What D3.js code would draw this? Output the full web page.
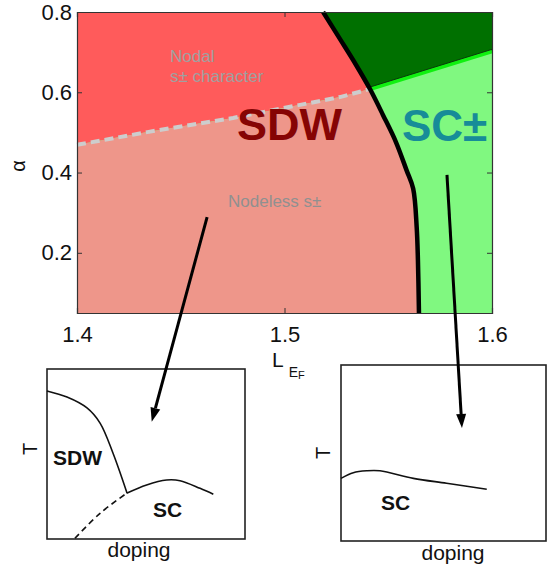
<!DOCTYPE html>
<html>
<head>
<meta charset="utf-8">
<script src="https://cdn.jsdelivr.net/npm/d3@7"></script>
<style>
html,body{margin:0;padding:0;background:#fff;}
svg{display:block;font-family:"Liberation Sans",Arial,Helvetica,sans-serif;}
</style>
</head>
<body>
<svg id="chart" width="556" height="570"></svg>
<script>
// ---------- data (main phase diagram: L_EF vs alpha) ----------
const xDomain = [1.4, 1.6];
const yDomain = [0.05, 0.8];
const xTicks = [1.4, 1.5, 1.6];
const yTicks = [0.2, 0.4, 0.6, 0.8];

// SDW / SC boundary (thick black), top to bottom
const sdwScBoundary = [
  [1.5186, 0.80], [1.5267, 0.733], [1.5345, 0.668], [1.5412, 0.608],
  [1.5475, 0.543], [1.5537, 0.476], [1.5588, 0.406], [1.5620, 0.360],
  [1.5637, 0.264], [1.5643, 0.182], [1.5648, 0.05]
];
// nodal / nodeless crossover (dashed grey), left to triple point
const nodalLine = [
  [1.4, 0.469], [1.4352, 0.502], [1.4752, 0.536], [1.5267, 0.588], [1.5412, 0.608]
];
// SC± / dark-green boundary (bright green), triple point to right edge
const scLine = [[1.5412, 0.608], [1.6, 0.702]];

// ---------- inset data (normalized doping, T) ----------
const inset1SDW = [[0, 0.871], [0.101, 0.835], [0.202, 0.771], [0.268, 0.682], [0.333, 0.506], [0.404, 0.271]];
const inset1SC = [[0.402, 0.269], [0.503, 0.318], [0.604, 0.347], [0.672, 0.343], [0.773, 0.298], [0.840, 0.263]];
const inset1Dash = [[0.141, 0.004], [0.268, 0.151], [0.402, 0.269]];
const inset2SC = [[0, 0.356], [0.060, 0.388], [0.125, 0.399], [0.190, 0.399], [0.353, 0.356], [0.515, 0.328], [0.711, 0.294]];

// arrows: start in main data coords, end in inset coords
const arrow1 = {from: [1.4627, 0.289], to: [0.529, 0.690]};
const arrow2 = {from: [1.5783, 0.394], to: [0.590, 0.642]};

// ---------- scales ----------
const svg = d3.select("#chart");
const x = d3.scaleLinear().domain(xDomain).range([77, 492]);
const y = d3.scaleLinear().domain(yDomain).range([313, 12]);
const ix1 = d3.scaleLinear().domain([0, 1]).range([47, 245]);
const iy1 = d3.scaleLinear().domain([0, 1]).range([539, 369]);
const ix2 = d3.scaleLinear().domain([0, 1]).range([341, 546]);
const iy2 = d3.scaleLinear().domain([0, 1]).range([541, 365]);

const line = d3.line().x(d => x(d[0])).y(d => y(d[1]));
const smooth = d3.line().x(d => x(d[0])).y(d => y(d[1])).curve(d3.curveCatmullRom.alpha(0.5));
const cont = s => "L" + s.slice(1);   // continue a path with another path string
const pts = a => a.map(d => x(d[0]) + "," + y(d[1])).join("L");

const tri = nodalLine.length - 1;
const triple = nodalLine[tri];
const bi = sdwScBoundary.findIndex(d => d[0] === triple[0] && d[1] === triple[1]);
const bTop = sdwScBoundary.slice(0, bi + 1);
const bBot = sdwScBoundary.slice(bi);
const bTopRev = bTop.slice().reverse();
const bBotRev = bBot.slice().reverse();
const X0 = xDomain[0], X1 = xDomain[1], Y0 = yDomain[0], Y1 = yDomain[1];

// light green background (SC±)
svg.append("path").attr("fill", "#80f880")
  .attr("d", "M" + pts([[X0, Y0], [X0, Y1], [X1, Y1], [X1, Y0]]) + "Z");
// dark green
svg.append("path").attr("fill", "#007000")
  .attr("d", smooth(bTop) + "L" + pts([scLine[1], [X1, Y1]]) + "Z");
// nodal SDW (red)
svg.append("path").attr("fill", "#ff5b5b")
  .attr("d", "M" + pts([[X0, Y1]]) + cont(smooth(bTop)) + "L" + pts(nodalLine.slice().reverse()) + "Z");
// nodeless SDW (salmon)
svg.append("path").attr("fill", "#ee968a")
  .attr("d", "M" + pts([[X0, Y0], ...nodalLine]) + cont(smooth(bBot)) + "Z");

// lines
svg.append("path").attr("d", line(scLine)).attr("fill", "none")
  .attr("stroke", "#10f010").attr("stroke-width", 4);
svg.append("path").attr("d", line(scLine)).attr("fill", "none")
  .attr("stroke", "#0a3a0a").attr("stroke-width", 1).attr("transform", "translate(0,-2)");
svg.append("path").attr("d", line(nodalLine)).attr("fill", "none")
  .attr("stroke", "#cdcdcd").attr("stroke-width", 4).attr("stroke-dasharray", "9,5");
svg.append("path").attr("d", smooth(sdwScBoundary)).attr("fill", "none")
  .attr("stroke", "#000").attr("stroke-width", 4.5).attr("stroke-linejoin", "round");

// axes
const fs = 22;
const gx = svg.append("g").attr("transform", "translate(0,313)")
  .call(d3.axisBottom(x).tickValues(xTicks).tickSize(-5).tickPadding(13).tickFormat(d3.format(".1f")));
const gy = svg.append("g").attr("transform", "translate(77,0)")
  .call(d3.axisLeft(y).tickValues(yTicks).tickSize(-5).tickPadding(5).tickFormat(d3.format(".1f")));
const gxt = svg.append("g").attr("transform", "translate(0,12)")
  .call(d3.axisTop(x).tickValues(xTicks).tickSize(-5).tickFormat(""));
const gyr = svg.append("g").attr("transform", "translate(492,0)")
  .call(d3.axisRight(y).tickValues(yTicks).tickSize(-5).tickFormat(""));
[gx, gy, gxt, gyr].forEach(g => {
  g.select(".domain").attr("stroke", "#333").attr("stroke-width", 1.2);
  g.selectAll(".tick line").attr("stroke", "#333");
  g.selectAll("text").attr("font-size", fs).attr("fill", "#111")
    .attr("font-family", "Liberation Sans, Arial, sans-serif");
});

// axis labels
svg.append("text").attr("transform", "translate(25,166) rotate(-90)")
  .attr("text-anchor", "middle").attr("font-size", 20).attr("fill", "#111").text("α");
const lab = svg.append("text").attr("x", 272).attr("y", 367).attr("fill", "#111");
lab.append("tspan").attr("font-size", 21).text("L");
lab.append("tspan").attr("font-size", 14).attr("dx", 5).attr("dy", 10).text("E");
lab.append("tspan").attr("font-size", 11).attr("dy", 2).text("F");

// region labels
svg.append("text").attr("x", 170).attr("y", 62).attr("font-size", 17).attr("fill", "#a0a0a0").text("Nodal");
svg.append("text").attr("x", 170).attr("y", 82).attr("font-size", 17).attr("fill", "#a0a0a0").text("s± character");
svg.append("text").attr("x", 228).attr("y", 207).attr("font-size", 17).attr("fill", "#909090").text("Nodeless s±");
svg.append("text").attr("x", 237).attr("y", 140).attr("font-size", 45).attr("font-weight", "bold")
  .attr("fill", "#860404").text("SDW");
svg.append("text").attr("x", 402).attr("y", 141).attr("font-size", 44).attr("font-weight", "bold")
  .attr("fill", "#178c98").text("SC±");

// ---------- insets ----------
function inset(xs, ys) {
  svg.append("rect").attr("x", xs.range()[0]).attr("y", ys.range()[1])
    .attr("width", xs.range()[1] - xs.range()[0]).attr("height", ys.range()[0] - ys.range()[1])
    .attr("fill", "#fff").attr("stroke", "#222").attr("stroke-width", 1.6);
}
inset(ix1, iy1);
inset(ix2, iy2);
const curveN = (xs, ys) => d3.line().x(d => xs(d[0])).y(d => ys(d[1])).curve(d3.curveCatmullRom);

svg.append("path").attr("d", curveN(ix1, iy1)(inset1SDW)).attr("fill", "none").attr("stroke", "#111").attr("stroke-width", 1.6);
svg.append("path").attr("d", curveN(ix1, iy1)(inset1SC)).attr("fill", "none").attr("stroke", "#111").attr("stroke-width", 1.6);
svg.append("path").attr("d", curveN(ix1, iy1)(inset1Dash)).attr("fill", "none").attr("stroke", "#111").attr("stroke-width", 1.6).attr("stroke-dasharray", "6,4");
svg.append("path").attr("d", curveN(ix2, iy2)(inset2SC)).attr("fill", "none").attr("stroke", "#111").attr("stroke-width", 1.6);

svg.append("text").attr("x", 53).attr("y", 465).attr("font-size", 21).attr("font-weight", "bold").attr("fill", "#111").text("SDW");
svg.append("text").attr("x", 153).attr("y", 517).attr("font-size", 21).attr("font-weight", "bold").attr("fill", "#111").text("SC");
svg.append("text").attr("x", 381).attr("y", 510).attr("font-size", 21).attr("font-weight", "bold").attr("fill", "#111").text("SC");
svg.append("text").attr("transform", "translate(37,449) rotate(-90)").attr("text-anchor", "middle").attr("font-size", 20).attr("fill", "#111").text("T");
svg.append("text").attr("transform", "translate(330,453) rotate(-90)").attr("text-anchor", "middle").attr("font-size", 20).attr("fill", "#111").text("T");
svg.append("text").attr("x", 139).attr("y", 557).attr("text-anchor", "middle").attr("font-size", 21).attr("fill", "#111").text("doping");
svg.append("text").attr("x", 453).attr("y", 560).attr("text-anchor", "middle").attr("font-size", 21).attr("fill", "#111").text("doping");

// ---------- arrows ----------
function arrow(a, xs, ys) {
  const x0 = x(a.from[0]), y0 = y(a.from[1]);
  const x1 = xs(a.to[0]), y1 = ys(a.to[1]);
  const ang = Math.atan2(y1 - y0, x1 - x0);
  const L = 14, Wd = 5;
  const bx = x1 - L * Math.cos(ang), by = y1 - L * Math.sin(ang);
  svg.append("line").attr("x1", x0).attr("y1", y0).attr("x2", bx).attr("y2", by)
    .attr("stroke", "#000").attr("stroke-width", 3);
  const px = -Math.sin(ang) * Wd, py = Math.cos(ang) * Wd;
  svg.append("path").attr("d", `M${x1},${y1}L${bx + px},${by + py}L${bx - px},${by - py}Z`).attr("fill", "#000");
}
arrow(arrow1, ix1, iy1);
arrow(arrow2, ix2, iy2);
</script>
</body>
</html>
